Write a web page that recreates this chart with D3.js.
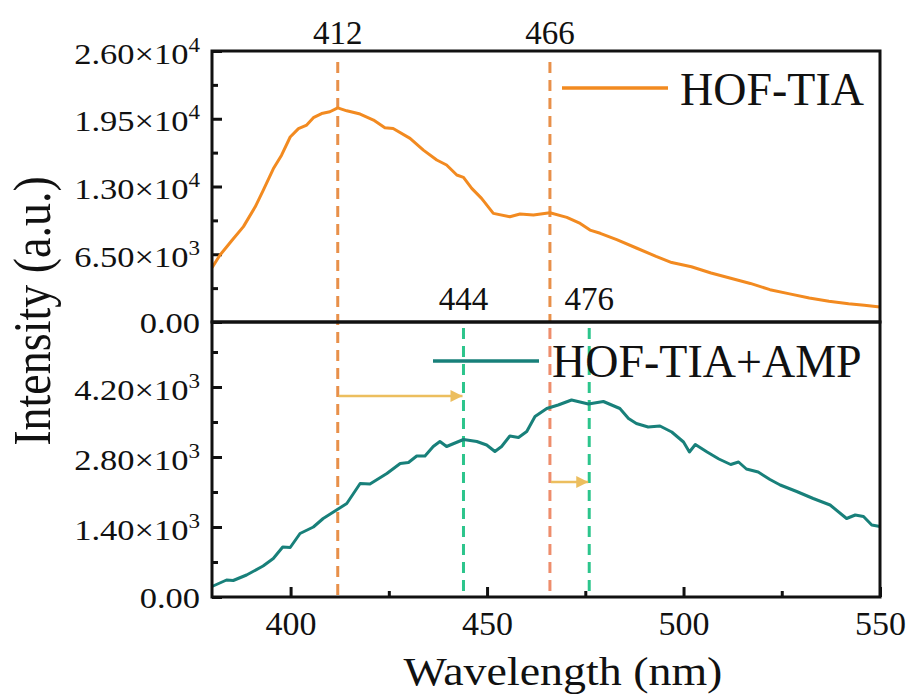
<!DOCTYPE html>
<html>
<head>
<meta charset="utf-8">
<script src="https://cdn.jsdelivr.net/npm/d3@7/dist/d3.min.js"></script>
<style>
  html, body { margin: 0; padding: 0; background: #fff; }
  svg { display: block; }
</style>
</head>
<body>
<svg id="chart" width="909" height="700" font-family="Liberation Serif"></svg>
<script>
// Emission spectra, wavelength in nm
const wavelengthTIA = [380, 382, 385, 388, 391, 393, 395.6, 397.7, 399.9, 402, 404.1, 405.8, 407.9, 410, 412,
  414.3, 417.7, 421.1, 424, 426.1, 430.4, 433.8, 437.2, 439.7, 442.3, 444, 446.1, 448.6, 451.6, 455.8,
  458.4, 461.8, 466, 470.3, 473.7, 476.2, 478.8, 483, 488, 493, 497, 502, 507, 512, 517, 522, 527, 532,
  537, 542, 546, 550];
const intensityTIA = [5200, 6400, 7800, 9150, 11050, 12600, 14700, 16000, 17750, 18550, 18900, 19600, 20000, 20170, 20550,
  20260, 19950, 19370, 18630, 18570, 17620, 16490, 15540, 15060, 14100, 13880, 12820, 11860, 10420, 10100,
  10360, 10260, 10480, 10040, 9460, 8820, 8510, 7900, 7100, 6300, 5700, 5300, 4700, 4200, 3700, 3100, 2700, 2300,
  2000, 1750, 1600, 1450];

const wavelengthAMP = [380, 383.7, 385.4, 388.8, 393, 395.6, 398, 399.9, 402.4, 405.8, 408.3, 411.7, 414.3, 417.7,
  420.2, 424.5, 427.9, 430, 432.1, 434.2, 436.3, 438, 439.7, 444, 447.4, 449.9, 452, 453.7, 455.8, 458,
  460.1, 462.2, 465.2, 468.1, 471.5, 475.8, 479.6, 483.8, 486, 488, 491, 494, 497, 500, 501.5, 503, 506,
  509, 512, 514, 516, 519, 522, 524.6, 528.8, 533, 537.3, 541.5, 543.7, 545.8, 547.9, 550];
const intensityAMP = [210, 340, 330, 440, 620, 770, 1000, 990, 1270, 1400, 1570, 1740, 1870, 2270,
  2260, 2470, 2670, 2690, 2820, 2820, 3010, 3110, 3010, 3150, 3110, 3040, 2910, 3010, 3220, 3190,
  3310, 3610, 3770, 3840, 3940, 3860, 3910, 3770, 3570, 3470, 3400, 3420, 3300, 3100, 2900, 3050, 2900,
  2760, 2650, 2700, 2560, 2500, 2350, 2240, 2110, 1970, 1840, 1570, 1640, 1610, 1440, 1410];

const seriesNames = ["HOF-TIA", "HOF-TIA+AMP"];
const peaksTIA = [412, 466];
const peaksAMP = [444, 476];
const xTicks = [400, 450, 500, 550];
const xMinorTicks = [425, 475, 525];
const yTicksTop = [0, 6500, 13000, 19500, 26000];
const yMinorTop = [3250, 9750, 16250, 22750];
const yTicksBottom = [0, 1400, 2800, 4200];
const yMinorBottom = [700, 2100, 3500, 4900];

const FONT = "Liberation Serif";
const INK = "#111";
const svg = d3.select("#chart");
const pLeft = 212, pRight = 880, pTop = 51, pMid = 322, pBottom = 597;

const x = d3.scaleLinear().domain([380, 550]).range([pLeft, pRight]);
const yTop = d3.scaleLinear().domain([0, 26000]).range([pMid, pTop]);
const yBot = d3.scaleLinear().domain([0, 5500]).range([pBottom, pMid]);

const C = {
  tia: "#F28A20", amp: "#18807A",
  dashOrange: "#E8904A", dashSalmon: "#EE8D6C", dashGreen: "#2CC58C",
  arrow: "#ECBE5E"
};

// scientific tick label: mantissa × 10^exp
function sciLabel(v) {
  if (v === 0) return { m: "0.00", e: null };
  const e = Math.floor(Math.log10(v));
  return { m: (v / Math.pow(10, e)).toFixed(2), e: e };
}

function drawYAxis(g, ticks, minor, scale) {
  const ax = d3.axisLeft(scale).tickValues(ticks).tickSizeInner(-10).tickSizeOuter(0).tickFormat("");
  const axG = g.append("g").attr("transform", `translate(${pLeft},0)`).call(ax).attr("font-family", FONT);
  axG.select(".domain").remove();
  axG.selectAll(".tick line").attr("stroke", INK).attr("stroke-width", 3);
  axG.selectAll(".tick text").remove();
  axG.selectAll(".tick").each(function (d) {
    const lab = sciLabel(d);
    const t = d3.select(this).append("text")
      .attr("text-anchor", "end")
      .attr("font-family", FONT)
      .attr("font-size", 30)
      .attr("fill", INK)
      .attr("transform", `translate(-12,${lab.e === null ? 10 : 12}) scale(1.15,1)`);
    t.append("tspan").text(lab.e === null ? lab.m : lab.m + "\u00d710");
    if (lab.e !== null) {
      t.append("tspan").attr("font-size", 20).attr("dy", -12).text(lab.e);
    }
  });
  const mx = d3.axisLeft(scale).tickValues(minor).tickSizeInner(-6).tickSizeOuter(0).tickFormat("");
  const mG = g.append("g").attr("transform", `translate(${pLeft},0)`).call(mx);
  mG.select(".domain").remove();
  mG.selectAll(".tick line").attr("stroke", INK).attr("stroke-width", 3);
}

const axes = svg.append("g");
drawYAxis(axes, yTicksTop, yMinorTop, yTop);
drawYAxis(axes, yTicksBottom, yMinorBottom, yBot);

// x axis (bottom)
const xAx = d3.axisBottom(x).tickValues(xTicks).tickSizeInner(-10).tickSizeOuter(0).tickFormat(d3.format("d"));
const xG = svg.append("g").attr("transform", `translate(0,${pBottom})`).call(xAx).attr("font-family", FONT);
xG.select(".domain").remove();
xG.selectAll(".tick line").attr("stroke", INK).attr("stroke-width", 3);
xG.selectAll(".tick text").attr("y", 38).attr("dy", 0).attr("font-size", 34)
  .attr("fill", INK).attr("font-family", FONT);
const xMin = d3.axisBottom(x).tickValues(xMinorTicks).tickSizeInner(-6).tickSizeOuter(0).tickFormat("");
const xmG = svg.append("g").attr("transform", `translate(0,${pBottom})`).call(xMin);
xmG.select(".domain").remove();
xmG.selectAll(".tick line").attr("stroke", INK).attr("stroke-width", 3);

// dashed peak markers
const dash = "11,7";
const marks = svg.append("g").attr("stroke-width", 3).attr("stroke-dasharray", dash).attr("fill", "none");
marks.selectAll("line.tia").data(peaksTIA).join("line").attr("class", "tia")
  .attr("x1", d => x(d)).attr("x2", d => x(d))
  .attr("y1", pTop + 11).attr("y2", (d, i) => i === 0 ? pBottom : pMid)
  .attr("stroke", C.dashOrange);
marks.append("line")
  .attr("x1", x(peaksTIA[1])).attr("x2", x(peaksTIA[1]))
  .attr("y1", pMid + 6).attr("y2", pBottom)
  .attr("stroke", C.dashSalmon);
marks.selectAll("line.amp").data(peaksAMP).join("line").attr("class", "amp")
  .attr("x1", d => x(d)).attr("x2", d => x(d))
  .attr("y1", pMid + 6).attr("y2", pBottom)
  .attr("stroke", C.dashGreen);

// peak labels
svg.append("g").selectAll("text").data(peaksTIA).join("text")
  .attr("x", d => x(d)).attr("y", 44).attr("text-anchor", "middle")
  .attr("font-family", FONT).attr("font-size", 33).attr("fill", INK)
  .text(d => d);
svg.append("g").selectAll("text").data(peaksAMP).join("text")
  .attr("x", d => x(d)).attr("y", 310).attr("text-anchor", "middle")
  .attr("font-family", FONT).attr("font-size", 33).attr("fill", INK)
  .text(d => d);

// shift arrows
const defs = svg.append("defs");
defs.append("marker").attr("id", "head").attr("viewBox", "0 0 10 10")
  .attr("refX", 10).attr("refY", 5).attr("markerWidth", 15).attr("markerHeight", 12)
  .attr("markerUnits", "userSpaceOnUse").attr("orient", "auto")
  .append("path").attr("d", "M0,0 L10,5 L0,10 Z").attr("fill", C.arrow);
const arrowLevels = [4020, 2300];
const shifts = [[peaksTIA[0], peaksAMP[0]], [peaksTIA[1], peaksAMP[1]]];
svg.append("g").selectAll("line").data(shifts).join("line")
  .attr("x1", d => x(d[0]) + 1).attr("x2", d => x(d[1]) - 1)
  .attr("y1", (d, i) => yBot(arrowLevels[i])).attr("y2", (d, i) => yBot(arrowLevels[i]))
  .attr("stroke", C.arrow).attr("stroke-width", 2.5).attr("marker-end", "url(#head)");

// spectra
const lineTop = d3.line().x((d, i) => x(wavelengthTIA[i])).y(d => yTop(d));
const lineBot = d3.line().x((d, i) => x(wavelengthAMP[i])).y(d => yBot(d));
svg.append("path").datum(intensityTIA).attr("d", lineTop)
  .attr("fill", "none").attr("stroke", C.tia).attr("stroke-width", 3).attr("stroke-linejoin", "round");
svg.append("path").datum(intensityAMP).attr("d", lineBot)
  .attr("fill", "none").attr("stroke", C.amp).attr("stroke-width", 3).attr("stroke-linejoin", "round");

// legends
const legends = [
  { name: seriesNames[0], color: C.tia, lx: 562, ly: 88, tx: 680, ty: 105 },
  { name: seriesNames[1], color: C.amp, lx: 433, ly: 361, tx: 552, ty: 377 }
];
const lg = svg.append("g").selectAll("g").data(legends).join("g");
lg.append("line").attr("x1", d => d.lx).attr("x2", d => d.lx + 106)
  .attr("y1", d => d.ly).attr("y2", d => d.ly)
  .attr("stroke", d => d.color).attr("stroke-width", 3.5);
lg.append("text").attr("x", d => d.tx).attr("y", d => d.ty)
  .attr("font-family", FONT).attr("font-size", 46).attr("fill", INK).text(d => d.name);

// frames
svg.append("rect").attr("x", pLeft).attr("y", pTop).attr("width", pRight - pLeft).attr("height", pMid - pTop)
  .attr("fill", "none").attr("stroke", INK).attr("stroke-width", 3);
svg.append("rect").attr("x", pLeft).attr("y", pMid).attr("width", pRight - pLeft).attr("height", pBottom - pMid)
  .attr("fill", "none").attr("stroke", INK).attr("stroke-width", 3);

// axis titles
svg.append("text").attr("transform", `translate(50,311) scale(1.13,1) rotate(-90)`)
  .attr("text-anchor", "middle").attr("font-family", FONT).attr("font-size", 46).attr("fill", INK)
  .text("Intensity (a.u.)");
svg.append("text").attr("transform", `translate(563,685) scale(1.12,1)`)
  .attr("text-anchor", "middle").attr("font-family", FONT).attr("font-size", 41).attr("fill", INK)
  .text("Wavelength (nm)");
</script>
</body>
</html>
